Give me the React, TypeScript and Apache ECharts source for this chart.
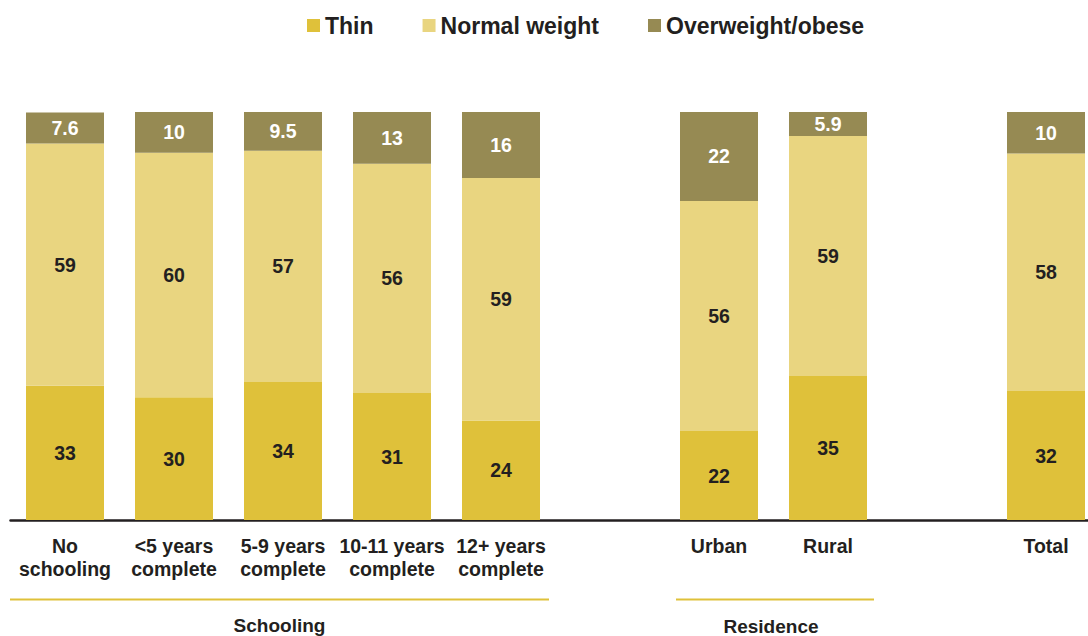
import React, { useEffect, useRef } from "react";
import * as echarts from "echarts";

const categories = [
  "No\nschooling",
  "<5 years\ncomplete",
  "5-9 years\ncomplete",
  "10-11 years\ncomplete",
  "12+ years\ncomplete",
  "",
  "Urban",
  "Rural",
  " ",
  "Total",
];
const thin = [32.9, 30.1, 33.8, 31.1, 24.4, "-", 21.8, 35.3, "-", 31.6];
const normalWeight = [59.4, 59.9, 56.7, 56.2, 59.4, "-", 56.4, 58.8, "-", 58.2];
const overweight = [7.6, 10.0, 9.5, 12.7, 16.2, "-", 21.8, 5.9, "-", 10.2];
const groups = [
  { name: "Schooling", from: 0, to: 4 },
  { name: "Residence", from: 6, to: 7 },
];

const FONT = "'Liberation Sans', Arial, sans-serif";
const DARK = "#231f20";
const C_THIN = "#dfc13a";
const C_NORMAL = "#e9d580";
const C_OVER = "#968a53";

const fmt = (p: any) => {
  const v = Number(p.value);
  return v < 9.95 ? v.toFixed(1) : String(Math.round(v));
};

export default function App() {
  const ref = useRef<HTMLDivElement>(null);
  useEffect(() => {
    if (!ref.current) return;
    const chart = echarts.init(ref.current, null, { renderer: "svg" });
    const labelStyle = (color: string) => ({
      show: true,
      position: "inside",
      color,
      formatter: fmt,
      fontFamily: FONT,
      fontWeight: "bold",
      fontSize: 19.5,
    });
    chart.setOption({
      animation: false,
      legend: {
        left: 302,
        top: 9,
        itemWidth: 13,
        itemHeight: 13,
        itemGap: 49,
        icon: "rect",
        textStyle: { fontFamily: FONT, fontWeight: "bold", fontSize: 23, color: DARK },
        data: ["Thin", "Normal weight", "Overweight/obese"],
      },
      grid: { left: 10.5, width: 1090, top: 112, bottom: 116 },
      xAxis: {
        type: "category",
        data: categories,
        axisLine: { lineStyle: { color: DARK, width: 2.5 } },
        axisTick: { show: false },
        axisLabel: {
          interval: 0,
          margin: 14,
          fontFamily: FONT,
          fontWeight: "bold",
          fontSize: 19.5,
          lineHeight: 23,
          color: DARK,
        },
      },
      yAxis: {
        type: "value",
        min: 0,
        max: 100,
        show: false,
        splitLine: { show: false },
      },
      series: [
        {
          name: "Thin",
          type: "bar",
          stack: "s",
          barWidth: 78,
          data: thin,
          itemStyle: { color: C_THIN },
          label: labelStyle(DARK),
        },
        {
          name: "Normal weight",
          type: "bar",
          stack: "s",
          barWidth: 78,
          data: normalWeight,
          itemStyle: { color: C_NORMAL },
          label: labelStyle(DARK),
        },
        {
          name: "Overweight/obese",
          type: "bar",
          stack: "s",
          barWidth: 78,
          data: overweight,
          itemStyle: { color: C_OVER },
          label: labelStyle("#ffffff"),
        },
      ],
    });

    const graphics: any[] = [];
    groups.forEach((g) => {
      const x0 = chart.convertToPixel({ xAxisIndex: 0 }, g.from) as number;
      const x1 = chart.convertToPixel({ xAxisIndex: 0 }, g.to) as number;
      const left = x0 - (g.from === 0 ? 55 : 43);
      const right = x1 + (g.from === 0 ? 48 : 46);
      graphics.push({
        type: "line",
        shape: { x1: left, y1: 599.5, x2: right, y2: 599.5 },
        style: { stroke: C_THIN, lineWidth: 2 },
      });
      graphics.push({
        type: "text",
        x: (left + right) / 2 - (g.from === 0 ? 0 : 4),
        y: g.from === 0 ? 625 : 626,
        style: {
          text: g.name,
          fontFamily: FONT,
          fontWeight: "bold",
          fontSize: 19,
          fill: DARK,
          align: "center",
          verticalAlign: "middle",
        },
      });
    });
    chart.setOption({ graphic: graphics });

    return () => chart.dispose();
  }, []);
  return (
    <div
      style={{ position: "absolute", left: 0, top: 0, width: 1088, height: 636, overflow: "hidden" }}
    >
      <div ref={ref} style={{ width: 1120, height: 636 }} />
    </div>
  );
}
